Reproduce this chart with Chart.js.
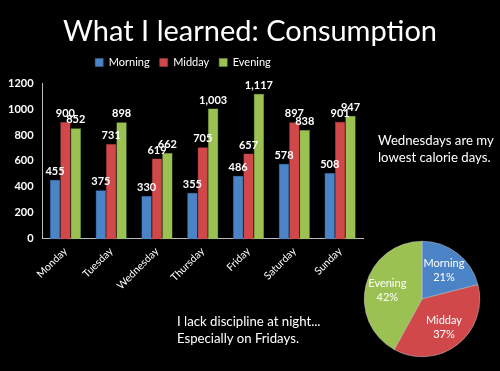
<!DOCTYPE html>
<html>
<head>
<meta charset="utf-8">
<script src="https://cdn.jsdelivr.net/npm/chart.js@4/dist/chart.umd.min.js"></script>
<style>
  html, body { margin: 0; padding: 0; background: #000; }
  #wrap { position: relative; width: 500px; height: 371px; overflow: hidden; font-family: Lato, "Open Sans", sans-serif; color: #fff; }
  #barCanvas { position: absolute; left: 0; top: 0; }
  #pieWrap { position: absolute; left: 361px; top: 238px; width: 122px; height: 122px; }
  h1 { position: absolute; left: 0; top: 10px; width: 500px; margin: 0; text-align: center; font-size: 29px; font-weight: normal; line-height: 40px; }
  .note { position: absolute; white-space: nowrap; font-size: 13.2px; line-height: 17px; }
</style>
</head>
<body>
<div id="wrap">
  <canvas id="barCanvas" width="500" height="371"></canvas>
  <h1>What I learned: Consumption</h1>
  <div id="pieWrap"><canvas id="pieCanvas"></canvas></div>
  <div class="note" style="left:378px; top:132px;">Wednesdays are my<br>lowest calorie days.</div>
  <div class="note" style="left:177px; top:313px;">I lack discipline at night...<br>Especially on Fridays.</div>
</div>
<script>
// data
var days = ["Monday", "Tuesday", "Wednesday", "Thursday", "Friday", "Saturday", "Sunday"];
var morning = [455, 375, 330, 355, 486, 578, 508];
var midday = [900, 731, 619, 705, 657, 897, 901];
var evening = [852, 898, 662, 1003, 1117, 838, 947];
var yTicks = [0, 200, 400, 600, 800, 1000, 1200];

var pieLabels = ["Morning", "Midday", "Evening"];
var pieShares = [21, 37, 42];

var blue = "#4a84c6", red = "#d0484a", green = "#9bc152";

// draw value labels above bars
var barValues = {
  id: "barValues",
  afterDatasetsDraw: function (chart) {
    var ctx = chart.ctx;
    ctx.save();
    ctx.fillStyle = "#fff";
    ctx.font = "bold 11px Lato, sans-serif";
    ctx.textAlign = "center";
    ctx.textBaseline = "bottom";
    chart.data.datasets.forEach(function (ds, i) {
      chart.getDatasetMeta(i).data.forEach(function (bar, j) {
        ctx.fillText(ds.data[j].toLocaleString("en-US"), bar.x, bar.y - 3);
      });
    });
    ctx.restore();
  },
};

// a bit more room under the legend
var legendGap = {
  id: "legendGap",
  beforeInit: function (chart) {
    var fit = chart.legend.fit;
    chart.legend.fit = function () {
      fit.bind(chart.legend)();
      this.height += 5;
    };
  },
};

var barChart = new Chart(document.getElementById("barCanvas"), {
  type: "bar",
  data: {
    labels: days,
    datasets: [
      { label: "Morning", data: morning, backgroundColor: blue, borderColor: "#3d6fa8", borderWidth: 0.5 },
      { label: "Midday", data: midday, backgroundColor: red, borderColor: "#a93b3c", borderWidth: 0.5 },
      { label: "Evening", data: evening, backgroundColor: green, borderColor: "#7e9e43", borderWidth: 0.5 },
    ],
  },
  options: {
    responsive: false,
    animation: false,
    layout: { padding: { left: 3, right: 137, top: 47, bottom: 73 } },
    datasets: { bar: { categoryPercentage: 0.68, barPercentage: 1.0 } },
    plugins: {
      legend: {
        display: true,
        position: "top",
        labels: {
          color: "#fff",
          boxWidth: 8,
          boxHeight: 8,
          padding: 10,
          font: { family: "Lato, sans-serif", size: 11 },
        },
      },
      tooltip: { enabled: false },
    },
    scales: {
      x: {
        grid: { display: false, drawTicks: false },
        border: { color: "#bbb", width: 1 },
        ticks: {
          color: "#fff",
          minRotation: 45,
          maxRotation: 45,
          padding: 6,
          font: { family: "Lato, sans-serif", size: 10.5 },
        },
      },
      y: {
        min: 0,
        max: 1200,
        afterBuildTicks: function (axis) {
          axis.ticks = yTicks.map(function (v) { return { value: v }; });
        },
        grid: { display: false, drawTicks: true, tickLength: 4, color: "#bbb" },
        border: { color: "#bbb", width: 1 },
        ticks: {
          color: "#fff",
          padding: 5,
          callback: function (v) { return String(v); },
          font: { family: "Lato, sans-serif", size: 11, weight: "bold" },
        },
      },
    },
  },
  plugins: [barValues, legendGap],
});

// labels inside pie slices
var pieText = {
  id: "pieText",
  afterDatasetsDraw: function (chart) {
    var ctx = chart.ctx;
    ctx.save();
    ctx.fillStyle = "#fff";
    ctx.font = "11px Lato, sans-serif";
    ctx.textAlign = "center";
    ctx.textBaseline = "middle";
    chart.getDatasetMeta(0).data.forEach(function (arc, i) {
      var mid = (arc.startAngle + arc.endAngle) / 2;
      var r = arc.outerRadius * 0.62;
      var x = arc.x + Math.cos(mid) * r;
      var y = arc.y + Math.sin(mid) * r;
      ctx.fillText(pieLabels[i], x, y - 7);
      ctx.fillText(pieShares[i] + "%", x, y + 7);
    });
    ctx.restore();
  },
};

var pieChart = new Chart(document.getElementById("pieCanvas"), {
  type: "pie",
  data: {
    labels: pieLabels,
    datasets: [
      {
        data: pieShares,
        backgroundColor: [blue, red, green],
        borderColor: "#ccc",
        borderWidth: 0.5,
      },
    ],
  },
  options: {
    responsive: true,
    maintainAspectRatio: false,
    animation: false,
    layout: { padding: 3 },
    plugins: { legend: { display: false }, tooltip: { enabled: false } },
  },
  plugins: [pieText],
});
</script>
</body>
</html>
